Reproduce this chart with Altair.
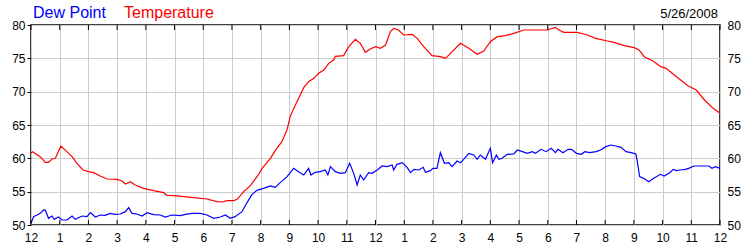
import altair as alt
import pandas as pd

# ---------------- data ----------------
temp_hours = [0, 0.05, 0.32, 0.5, 0.61, 0.73, 0.85, 1.04, 1.25, 1.43, 1.6, 1.81, 2.0, 2.18,
              2.41, 2.65, 3.0, 3.17, 3.29, 3.46, 3.63, 3.92, 4.27, 4.62, 4.74, 4.97, 5.32,
              5.67, 6.13, 6.48, 6.65, 6.83, 7.06, 7.18, 7.41, 7.64, 7.93, 8.05, 8.34, 8.51,
              8.74, 8.92, 9.03, 9.21, 9.38, 9.5, 9.67, 9.85, 10.02, 10.2, 10.37, 10.54, 10.6,
              10.89, 11.07, 11.3, 11.47, 11.65, 11.82, 12.0, 12.17, 12.35, 12.52, 12.63, 12.8,
              12.98, 13.28, 13.45, 13.68, 13.97, 14.26, 14.44, 14.61, 14.96, 15.25, 15.54,
              15.77, 16.0, 16.24, 16.53, 16.82, 17.17, 17.52, 17.98, 18.27, 18.39, 18.56,
              19.03, 19.38, 19.67, 20.08, 20.31, 20.66, 21.01, 21.18, 21.36, 21.65, 21.94,
              22.12, 22.41, 22.88, 23.17, 23.46, 23.76, 24.0]
temp_values = [60.8, 61.0, 60.25, 59.4, 59.4, 59.9, 60.0, 61.85, 61.0, 60.25, 59.25, 58.25,
               58.0, 57.85, 57.35, 56.9, 56.85, 56.6, 56.15, 56.5, 56.0, 55.5, 55.15, 54.85,
               54.45, 54.4, 54.25, 54.1, 53.9, 53.5, 53.45, 53.65, 53.65, 53.85, 55.0, 55.9,
               57.6, 58.5, 60.0, 61.2, 62.5, 64.3, 66.3, 68.0, 69.5, 70.6, 71.5, 72.0, 72.75,
               73.25, 74.25, 74.75, 75.3, 75.4, 76.75, 77.85, 77.25, 75.9, 76.4, 76.75, 76.5,
               77.0, 79.0, 79.5, 79.25, 78.5, 78.6, 78.0, 76.75, 75.4, 75.25, 75.0, 75.75,
               77.25, 76.5, 75.6, 76.1, 77.5, 78.25, 78.4, 78.75, 79.25, 79.25, 79.25, 79.65,
               79.25, 78.9, 78.9, 78.5, 78.0, 77.6, 77.4, 76.9, 76.6, 76.25, 75.25, 74.65,
               73.75, 73.5, 72.5, 70.9, 70.25, 68.75, 67.5, 66.75]

dew_hours = [0, 0.09, 0.21, 0.32, 0.44, 0.5, 0.61, 0.73, 0.81, 0.96, 1.08, 1.25, 1.43, 1.54,
             1.78, 1.95, 2.07, 2.24, 2.41, 2.58, 2.76, 2.93, 3.11, 3.29, 3.4, 3.52, 3.69, 3.87,
             4.04, 4.27, 4.5, 4.68, 4.91, 5.2, 5.38, 5.61, 5.9, 6.13, 6.36, 6.6, 6.77, 6.94,
             7.11, 7.35, 7.53, 7.7, 7.87, 8.1, 8.34, 8.51, 8.68, 8.92, 9.15, 9.32, 9.5, 9.67,
             9.75, 9.9, 10.08, 10.25, 10.34, 10.43, 10.6, 10.78, 10.95, 11.1, 11.24, 11.36,
             11.47, 11.59, 11.76, 11.88, 12.06, 12.23, 12.4, 12.58, 12.63, 12.75, 12.93, 13.1,
             13.22, 13.34, 13.51, 13.66, 13.74, 13.91, 14.0, 14.14, 14.26, 14.4, 14.55, 14.67,
             14.84, 14.96, 15.07, 15.25, 15.42, 15.54, 15.65, 15.83, 16.0, 16.08, 16.21, 16.3,
             16.41, 16.59, 16.82, 16.94, 17.12, 17.28, 17.46, 17.57, 17.77, 17.94, 18.12,
             18.27, 18.36, 18.53, 18.71, 18.83, 19.0, 19.17, 19.29, 19.46, 19.69, 19.84,
             20.02, 20.2, 20.37, 20.55, 20.73, 20.9, 21.07, 21.12, 21.2, 21.34, 21.52, 21.69,
             21.93, 22.05, 22.25, 22.37, 22.48, 22.62, 22.79, 22.91, 23.09, 23.61, 23.72,
             23.84, 24.0]
dew_values = [50.25, 51.25, 51.5, 51.75, 52.25, 52.2, 51.0, 51.35, 50.85, 51.2, 50.75, 50.75,
              51.35, 50.85, 51.35, 51.25, 51.85, 51.2, 51.5, 51.45, 51.75, 51.6, 51.65, 52.0,
              52.6, 51.75, 51.65, 51.35, 51.85, 51.55, 51.5, 51.2, 51.5, 51.4, 51.6, 51.75,
              51.75, 51.5, 51.0, 51.2, 51.5, 51.0, 51.25, 52.0, 53.4, 54.6, 55.2, 55.5, 55.85,
              55.65, 56.35, 57.25, 58.5, 58.0, 57.5, 58.5, 57.5, 57.9, 58.0, 58.25, 57.5, 58.75,
              58.0, 57.75, 57.85, 59.25, 57.75, 56.0, 57.5, 56.75, 57.85, 57.75, 58.25, 58.85,
              58.75, 59.0, 58.25, 59.1, 59.35, 58.65, 57.85, 58.35, 58.25, 58.65, 57.9, 58.15,
              58.5, 58.5, 60.85, 59.25, 59.35, 58.75, 59.6, 59.35, 59.85, 60.75, 60.5, 59.85,
              60.5, 59.85, 61.5, 59.35, 60.5, 59.85, 60.0, 60.6, 60.65, 61.25, 61.0, 60.75,
              61.0, 60.75, 61.35, 61.0, 61.5, 60.85, 61.35, 60.85, 61.35, 61.35, 60.75, 60.6,
              61.0, 60.85, 61.0, 61.25, 61.75, 62.0, 61.85, 61.65, 61.0, 60.85, 60.65, 59.5,
              57.25, 57.0, 56.5, 57.0, 57.6, 57.35, 57.85, 58.35, 58.15, 58.25, 58.35, 58.5,
              58.85, 58.85, 58.5, 58.75, 58.5]

hour_ticks = list(range(25))
y_ticks = [50, 55, 60, 65, 70, 75, 80]
series_names = ["Dew Point", "Temperature"]
series_colors = ["#0000ff", "#ff0000"]
date_label = "5/26/2008"

FONT = "Liberation Sans"

# ---------------- frames ----------------
temp_df = pd.DataFrame({"h": temp_hours, "v": temp_values})
dew_df = pd.DataFrame({"h": dew_hours, "v": dew_values})
tick_df = pd.DataFrame({"h": hour_ticks})

xscale = alt.Scale(domain=[0, 24], nice=False, zero=False)
yscale = alt.Scale(domain=[50, 80], nice=False, zero=False)

xaxis = alt.Axis(values=hour_ticks,
                 labelExpr="datum.value % 12 == 0 ? '12' : '' + (datum.value % 12)",
                 grid=True, gridColor="#cccccc", gridWidth=1,
                 ticks=False, domain=False, labelPadding=7, labelFontSize=12,
                 labelColor="black", labelFont=FONT, labelFlush=False,
                 labelOverlap=False, title=None)
yaxis_left = alt.Axis(values=y_ticks, grid=True, gridColor="#cccccc", gridWidth=1,
                      ticks=True, tickSize=4, tickColor="black", domain=False,
                      labelPadding=2, labelFontSize=12, labelColor="black",
                      labelFont=FONT, labelFlush=False, title=None)
yaxis_right = alt.Axis(orient="right", values=y_ticks, grid=False, ticks=False,
                       domain=False, labelPadding=7, labelFontSize=12,
                       labelColor="black", labelFont=FONT, labelFlush=False, title=None)

temp_line = alt.Chart(temp_df).mark_line(color=series_colors[1], strokeWidth=1.2).encode(
    x=alt.X("h:Q", scale=xscale, axis=xaxis),
    y=alt.Y("v:Q", scale=yscale, axis=yaxis_left),
)
dew_line = alt.Chart(dew_df).mark_line(color=series_colors[0], strokeWidth=1.2).encode(
    x=alt.X("h:Q", scale=xscale, axis=xaxis),
    y=alt.Y("v:Q", scale=yscale, axis=yaxis_left),
)

bottom_ticks = alt.Chart(tick_df).mark_rule(color="black", strokeWidth=1).encode(
    x=alt.X("h:Q", scale=xscale, axis=xaxis),
    y=alt.value(200), y2=alt.value(195),
)
top_ticks = alt.Chart(tick_df).mark_rule(color="black", strokeWidth=1).encode(
    x=alt.X("h:Q", scale=xscale, axis=xaxis),
    y=alt.value(0), y2=alt.value(5),
)

main = alt.layer(temp_line, dew_line, bottom_ticks, top_ticks)

right_axis = alt.Chart(dew_df).mark_line(opacity=0).encode(
    x=alt.X("h:Q", scale=xscale, axis=xaxis),
    y=alt.Y("v:Q", scale=yscale, axis=yaxis_right),
)

dew_title = alt.Chart(pd.DataFrame({"t": [series_names[0]]})).mark_text(
    align="left", baseline="alphabetic", font=FONT, fontSize=16, color=series_colors[0]
).encode(text="t:N", x=alt.value(2), y=alt.value(-7))
temp_title = alt.Chart(pd.DataFrame({"t": [series_names[1]]})).mark_text(
    align="left", baseline="alphabetic", font=FONT, fontSize=16, color=series_colors[1]
).encode(text="t:N", x=alt.value(93), y=alt.value(-7))
date_text = alt.Chart(pd.DataFrame({"t": [date_label]})).mark_text(
    align="right", baseline="alphabetic", font=FONT, fontSize=13, color="black"
).encode(text="t:N", x=alt.value(687), y=alt.value(-7))

chart = alt.layer(main, right_axis, dew_title, temp_title, date_text).resolve_scale(
    y="independent"
).properties(
    width=689, height=200,
    padding={"left": 31, "top": 25, "right": 30, "bottom": 25},
    autosize=alt.AutoSizeParams(type="none"),
    background="white",
).configure_view(stroke="black", strokeWidth=1.5)

chart.save("out.html", embed_options={"renderer": "svg", "actions": False})
